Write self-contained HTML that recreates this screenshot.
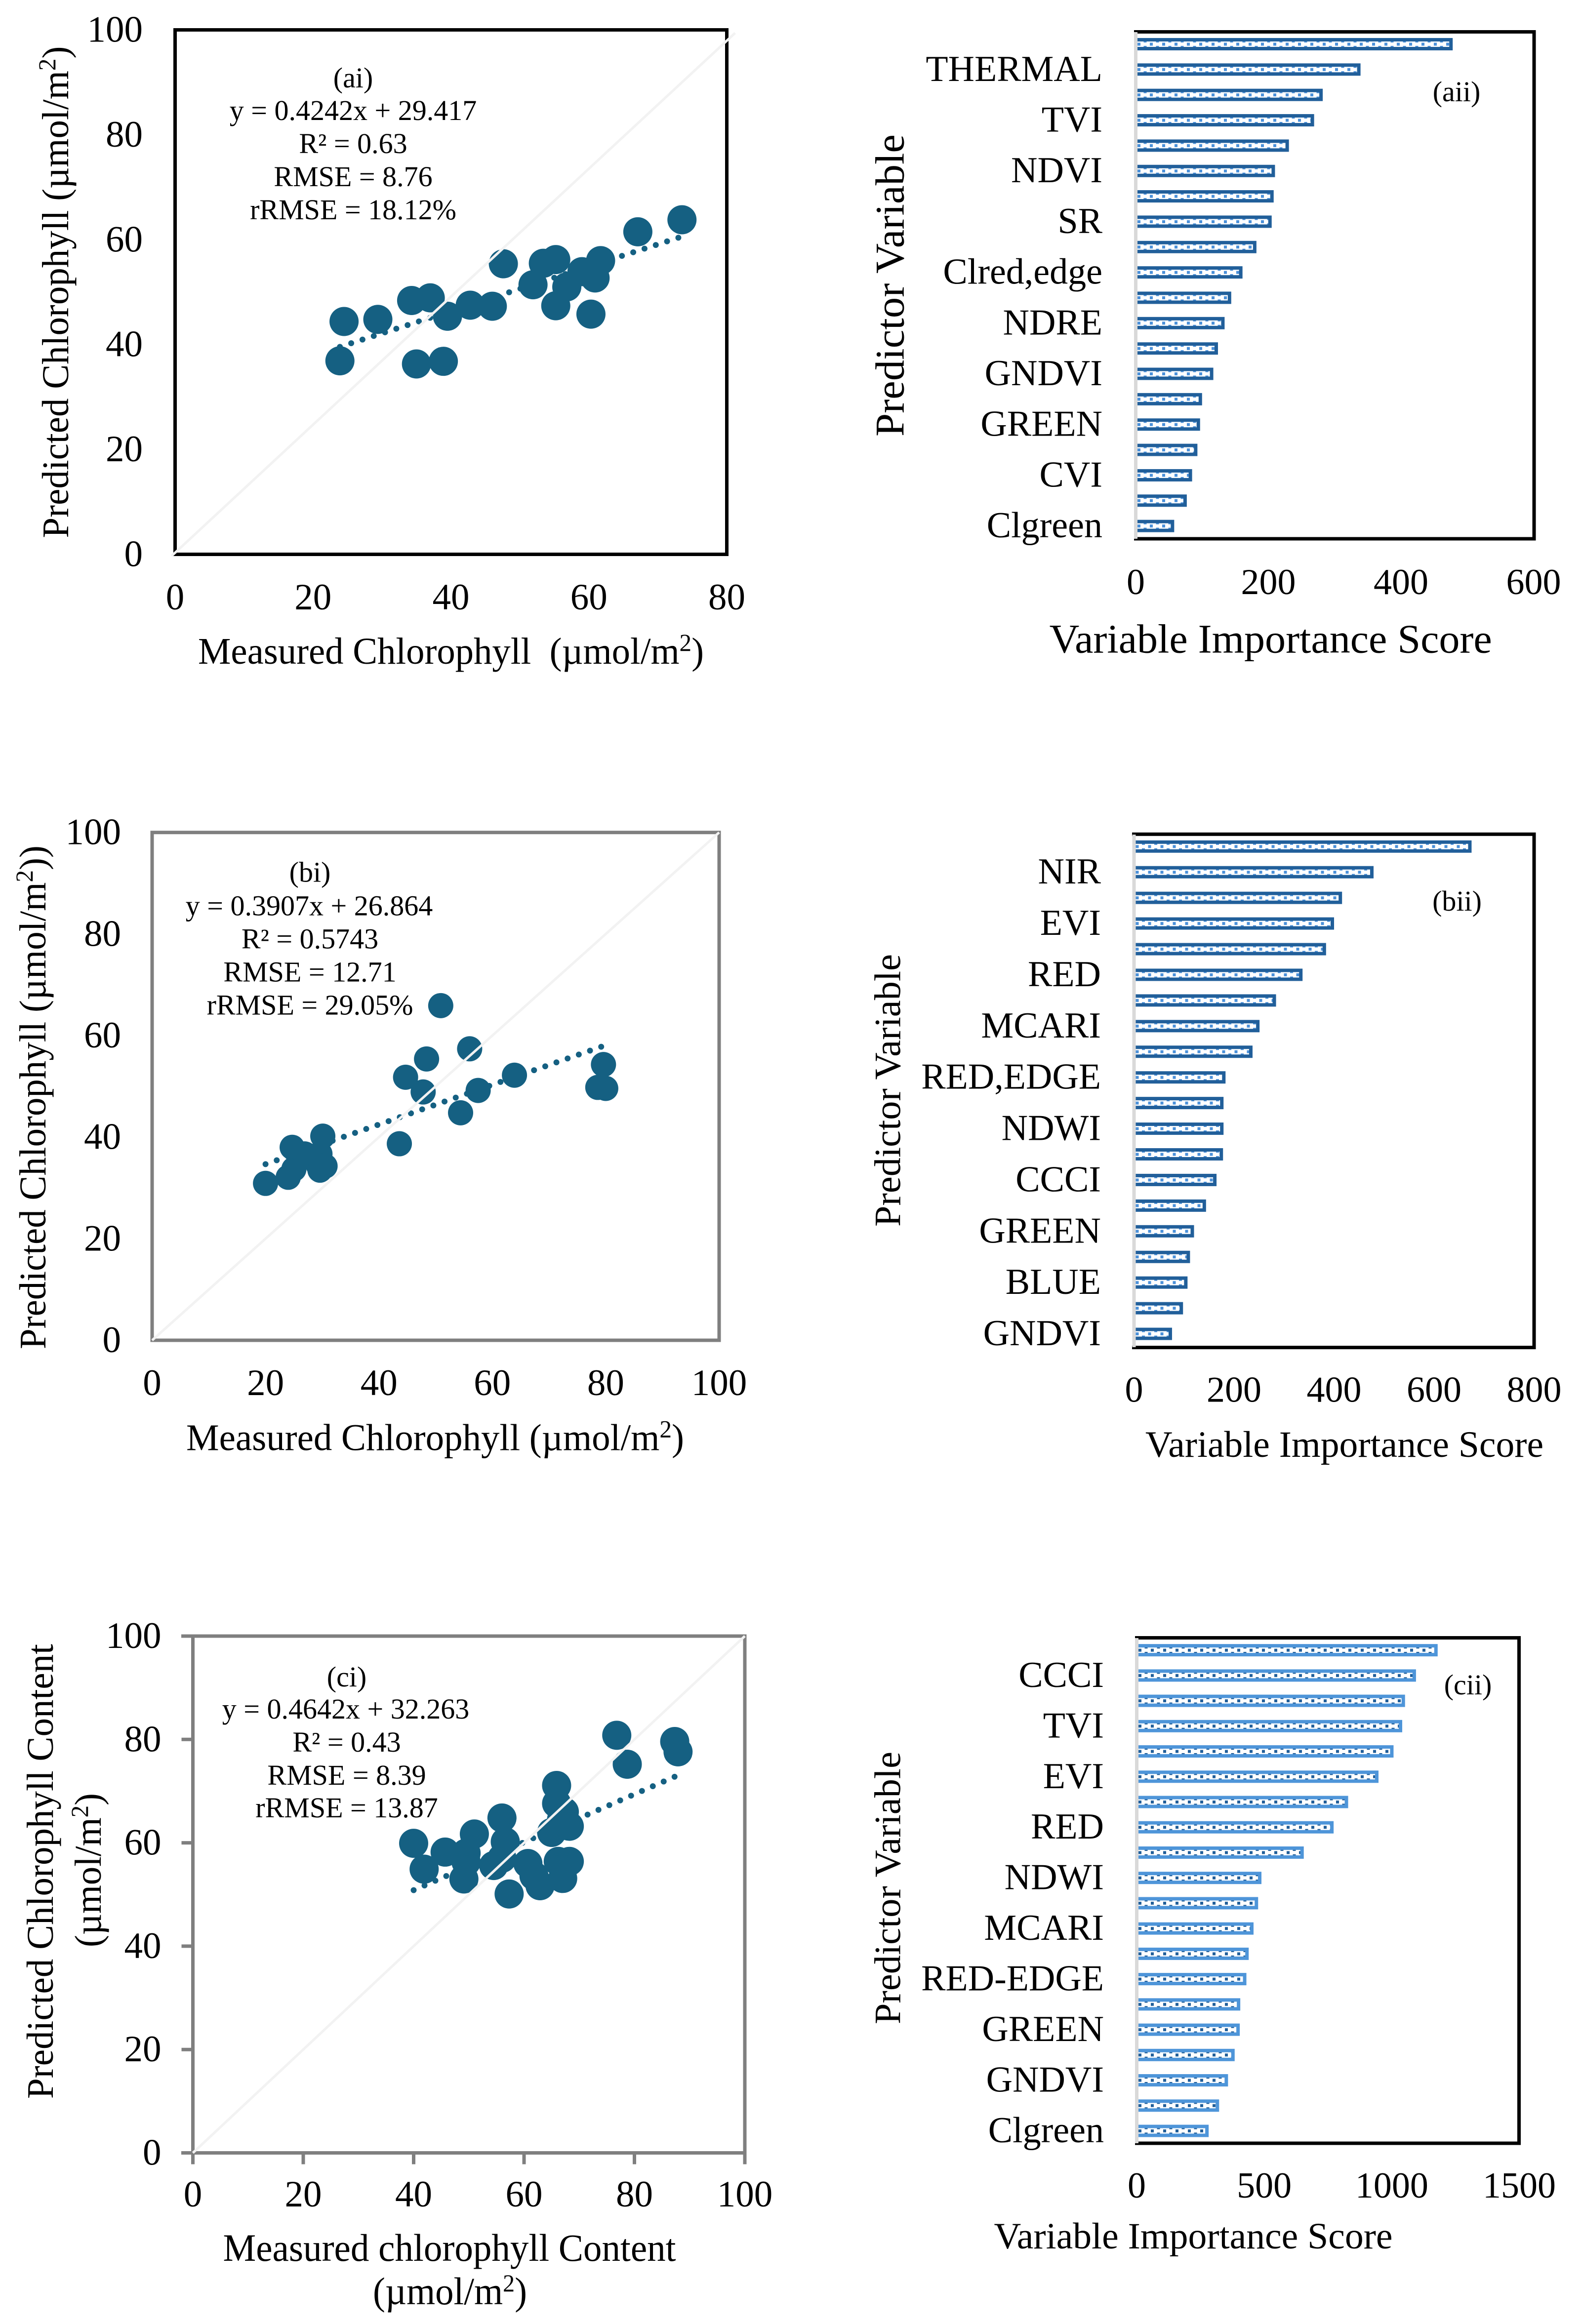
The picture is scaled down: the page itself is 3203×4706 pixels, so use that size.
<!DOCTYPE html>
<html lang="en">
<head>
<meta charset="utf-8">
<title>Measured vs predicted chlorophyll and variable importance</title>
<style>
html,body{margin:0;padding:0;background:#fff}
svg{display:block;position:absolute;left:0;top:0}
text{font-family:"Liberation Serif","Times New Roman",serif;fill:#000}
</style>
</head>
<body>
<svg id="figure" xmlns="http://www.w3.org/2000/svg" width="3203" height="4706" viewBox="0 0 3203 4706">
<rect x="0" y="0" width="3203" height="4706" fill="#fff"/>
<defs id="defs"></defs>

<!-- Panel ai -->
<g id="panel-ai">
<rect x="354.5" y="60.5" width="1117" height="1062" fill="none" stroke="#000" stroke-width="7"/>
<g id="ai-marks"></g>
<g id="ai-ticks"></g>
<text x="715" y="177" font-size="58" text-anchor="middle">(ai)</text>
<text x="715" y="243" font-size="58" text-anchor="middle">y = 0.4242x + 29.417</text>
<text x="715" y="310" font-size="58" text-anchor="middle">R² = 0.63</text>
<text x="715" y="377" font-size="58" text-anchor="middle">RMSE = 8.76</text>
<text x="715" y="444" font-size="58" text-anchor="middle">rRMSE = 18.12%</text>
<text x="913" y="1344" font-size="76" text-anchor="middle" textLength="1024" lengthAdjust="spacingAndGlyphs">Measured Chlorophyll&#160;&#160;(µmol/m<tspan dy="-26" font-size="50">2</tspan><tspan dy="26">)</tspan></text>
<text transform="translate(138 591.5) rotate(-90)" font-size="76" text-anchor="middle" textLength="996" lengthAdjust="spacingAndGlyphs">Predicted Chlorophyll (µmol/m<tspan dy="-26" font-size="50">2</tspan><tspan dy="26">)</tspan></text>
</g>

<!-- Panel aii -->
<g id="panel-aii">
<g id="aii-marks"></g>
<path d="M2296 64.5H3106V1091H2296" fill="none" stroke="#000" stroke-width="7"/>
<line x1="2299.5" y1="65" x2="2299.5" y2="1091" stroke="#d9d9d9" stroke-width="7"/>
<g id="aii-ticks"></g>
<text x="2949" y="205" font-size="58" text-anchor="middle">(aii)</text>
<text x="2572.7" y="1321.5" font-size="83" text-anchor="middle" textLength="896" lengthAdjust="spacingAndGlyphs">Variable Importance Score</text>
<text transform="translate(1829.4 578) rotate(-90)" font-size="83" text-anchor="middle" textLength="612" lengthAdjust="spacingAndGlyphs">Predictor Variable</text>
</g>

<!-- Panel bi -->
<g id="panel-bi">
<rect x="308" y="1685.7" width="1148" height="1028.3" fill="none" stroke="#7f7f7f" stroke-width="7"/>
<g id="bi-marks"></g>
<g id="bi-ticks"></g>
<text x="627.5" y="1785.5" font-size="58" text-anchor="middle">(bi)</text>
<text x="626" y="1853.6" font-size="58" text-anchor="middle">y = 0.3907x + 26.864</text>
<text x="627.5" y="1920.5" font-size="58" text-anchor="middle">R² = 0.5743</text>
<text x="627.5" y="1987.5" font-size="58" text-anchor="middle">RMSE = 12.71</text>
<text x="627.5" y="2054.5" font-size="58" text-anchor="middle">rRMSE = 29.05%</text>
<text x="881" y="2936.7" font-size="76" text-anchor="middle" textLength="1008" lengthAdjust="spacingAndGlyphs">Measured Chlorophyll (µmol/m<tspan dy="-26" font-size="50">2</tspan><tspan dy="26">)</tspan></text>
<text transform="translate(92 2222) rotate(-90)" font-size="76" text-anchor="middle" textLength="1020" lengthAdjust="spacingAndGlyphs">Predicted Chlorophyll (µmol/m<tspan dy="-26" font-size="50">2</tspan><tspan dy="26">))</tspan></text>
</g>

<!-- Panel bii -->
<g id="panel-bii">
<g id="bii-marks"></g>
<path d="M2292 1689.3H3106V2728.6H2292" fill="none" stroke="#000" stroke-width="7"/>
<line x1="2296" y1="1690" x2="2296" y2="2728" stroke="#d9d9d9" stroke-width="7"/>
<g id="bii-ticks"></g>
<text x="2950" y="1843.8" font-size="58" text-anchor="middle">(bii)</text>
<text x="2722" y="2950" font-size="75" text-anchor="middle" textLength="806" lengthAdjust="spacingAndGlyphs">Variable Importance Score</text>
<text transform="translate(1822.7 2208) rotate(-90)" font-size="75" text-anchor="middle" textLength="552" lengthAdjust="spacingAndGlyphs">Predictor Variable</text>
</g>

<!-- Panel ci -->
<g id="panel-ci">
<path d="M367 3313H1508V4381.7M367 4359.5H1508M390.5 3313V4381.7" fill="none" stroke="#7f7f7f" stroke-width="7"/>
<g id="ci-ticks-outer"></g>
<g id="ci-marks"></g>
<g id="ci-ticks"></g>
<text x="702" y="3415" font-size="58" text-anchor="middle">(ci)</text>
<text x="700" y="3480" font-size="58" text-anchor="middle">y = 0.4642x + 32.263</text>
<text x="702" y="3547" font-size="58" text-anchor="middle">R² = 0.43</text>
<text x="702" y="3614" font-size="58" text-anchor="middle">RMSE = 8.39</text>
<text x="702" y="3680" font-size="58" text-anchor="middle">rRMSE = 13.87</text>
<text x="910" y="4578" font-size="78" text-anchor="middle" textLength="917" lengthAdjust="spacingAndGlyphs">Measured chlorophyll Content</text>
<text x="911" y="4666" font-size="78" text-anchor="middle" textLength="312" lengthAdjust="spacingAndGlyphs">(µmol/m<tspan dy="-26" font-size="50">2</tspan><tspan dy="26">)</tspan></text>
<text transform="translate(107 3789.5) rotate(-90)" font-size="76" text-anchor="middle" textLength="921" lengthAdjust="spacingAndGlyphs">Predicted Chlorophyll Content</text>
<text transform="translate(204 3787) rotate(-90)" font-size="76" text-anchor="middle" textLength="312" lengthAdjust="spacingAndGlyphs">(µmol/m<tspan dy="-26" font-size="50">2</tspan><tspan dy="26">)</tspan></text>
</g>

<!-- Panel cii -->
<g id="panel-cii">
<g id="cii-marks"></g>
<path d="M2298 3316.5H3075.5V4340H2298" fill="none" stroke="#000" stroke-width="7"/>
<line x1="2301.5" y1="3317" x2="2301.5" y2="4340" stroke="#d9d9d9" stroke-width="7"/>
<g id="cii-ticks"></g>
<text x="2972" y="3431" font-size="58" text-anchor="middle">(cii)</text>
<text x="2416" y="4552.8" font-size="75" text-anchor="middle" textLength="807" lengthAdjust="spacingAndGlyphs">Variable Importance Score</text>
<text transform="translate(1822.7 3823) rotate(-90)" font-size="75" text-anchor="middle" textLength="552" lengthAdjust="spacingAndGlyphs">Predictor Variable</text>
</g>
</svg>

<script>
// ---------- Panel ai data ----------
const aiMeasured = [23.9,24.5,29.4,34.3,35.0,37.0,38.9,39.5,42.8,46.0,47.6,51.9,53.4,55.2,55.2,56.8,59.0,60.3,60.9,61.7,67.1,73.5];
const aiPredicted = [36.9,44.4,44.8,48.4,36.3,48.9,36.8,45.4,47.5,47.3,55.4,51.4,55.5,56.2,47.4,51.0,53.9,45.8,52.7,56.0,61.5,63.8];
const aiTrendCoefficients = [0.4242,29.417];
const aiReferenceX = [-0.5,81.2];
const aiReferenceY = [-0.3,99.4];
const aiXTicks = [0,20,40,60,80];
const aiYTicks = [0,20,40,60,80,100];

// ---------- Panel bi data ----------
const biMeasured = [20.0,24.0,25.0,24.7,26.9,29.6,29.3,30.5,29.6,30.1,43.6,44.7,48.4,47.8,54.4,56.0,57.5,63.9,78.6,79.6,80.0,50.9];
const biPredicted = [30.9,32.1,33.7,38.0,36.7,36.7,34.5,34.3,33.5,40.2,38.7,51.8,55.4,48.9,44.8,57.4,49.2,52.2,49.8,54.3,49.6,65.9];
const biTrendCoefficients = [0.3907,26.864];
const biReferenceX = [0,100];
const biReferenceY = [0,100];
const biXTicks = [0,20,40,60,80,100];
const biYTicks = [0,20,40,60,80,100];

// ---------- Panel ci data ----------
const ciMeasured = [40.0,41.9,45.7,49.5,49.5,49.1,51.0,56.0,56.6,54.5,57.3,60.7,61.8,62.9,65.0,65.9,65.9,67.3,68.2,66.2,68.2,67.0,76.8,78.7,87.3,87.9,66.8,56.0];
const ciPredicted = [59.9,54.9,58.2,58.0,56.3,53.0,61.7,64.8,60.2,55.6,50.1,56.0,53.6,51.7,62.0,71.1,67.6,66.0,63.2,56.4,56.4,53.1,80.8,75.2,79.6,77.6,64.5,57.0];
const ciTrendCoefficients = [0.4642,32.263];
const ciReferenceX = [0,100];
const ciReferenceY = [0,100];
const ciXTicks = [0,20,40,60,80,100];
const ciYTicks = [0,20,40,60,80,100];

// ---------- Variable importance data (labels shown on every second bar) ----------
const aiiCategories = ["","THERMAL","","TVI","","NDVI","","SR","","Clred,edge","","NDRE","","GNDVI","","GREEN","","CVI","","Clgreen"];
const aiiScores = [478,339,282,269,231,210,208,205,182,161,144,134,124,117,100,97,93,85,77,58];
const aiiTicks = [0,200,400,600];

const biiCategories = ["","NIR","","EVI","","RED","","MCARI","","RED,EDGE","","NDWI","","CCCI","","GREEN","","BLUE","","GNDVI"];
const biiScores = [675,479,416,400,384,337,284,251,237,183,179,179,178,165,144,120,112,107,98,76];
const biiTicks = [0,200,400,600,800];

const ciiCategories = ["","CCCI","","TVI","","EVI","","RED","","NDWI","","MCARI","","RED-EDGE","","GREEN","","GNDVI","","Clgreen"];
const ciiScores = [1180,1095,1052,1041,1007,948,829,772,655,489,476,458,439,430,406,404,384,358,323,282];
const ciiTicks = [0,500,1000,1500];

const NS = 'http://www.w3.org/2000/svg';
const POINT_COLOR = '#156082';

function linear(d0, d1, r0, r1) {
  return function (v) { return r0 + (v - d0) / (d1 - d0) * (r1 - r0); };
}
function make(tag, attrs, parent) {
  const el = document.createElementNS(NS, tag);
  for (const k in attrs) el.setAttribute(k, attrs[k]);
  parent.appendChild(el);
  return el;
}
function drawLabel(parent, x, y, str, size, anchor) {
  const el = make('text', { x: x, y: y, 'font-size': size, 'text-anchor': anchor }, parent);
  el.textContent = str;
  return el;
}

function drawScatter(id, measured, predicted, trend, refX, refY, xS, yS, radius) {
  const g = document.getElementById(id + '-marks');
  const lo = Math.min.apply(null, measured);
  const hi = Math.max.apply(null, measured);
  const trendLine = make('line', {
    x1: xS(lo), y1: yS(trend[0] * lo + trend[1]),
    x2: xS(hi), y2: yS(trend[0] * hi + trend[1]),
    stroke: POINT_COLOR, 'stroke-width': 12, 'stroke-linecap': 'round', 'stroke-dasharray': '0 24'
  }, g);
  
  
  measured.forEach(function (m, i) {
    const pt = make('circle', { cx: xS(m), cy: yS(predicted[i]), r: radius, fill: POINT_COLOR }, g);
    
    
  });
  const ref = make('line', {
    x1: xS(refX[0]), y1: yS(refY[0]), x2: xS(refX[1]), y2: yS(refY[1]),
    stroke: '#f2f2f2', 'stroke-width': 5
  }, g);
  
  
}

function drawScatterTicks(id, xTicks, yTicks, xS, yS, xBase, yRight, size) {
  const g = document.getElementById(id + '-ticks');
  xTicks.forEach(function (t) {
    const lab = drawLabel(g, xS(t), xBase, String(t), size, 'middle');
    
    
  });
  yTicks.forEach(function (t) {
    const lab = drawLabel(g, yRight, yS(t) + 24, String(t), size, 'end');
    
    
  });
}

function drawOuterTicks(id, xTicks, yTicks, xS, yS, yAxisX, xAxisY, len) {
  const g = document.getElementById(id + '-ticks-outer');
  xTicks.forEach(function (t) {
    const mark = make('line', { x1: xS(t), y1: xAxisY, x2: xS(t), y2: xAxisY + len, stroke: '#7f7f7f', 'stroke-width': 7 }, g);
    
    
  });
  yTicks.forEach(function (t) {
    const mark = make('line', { x1: yAxisX, y1: yS(t), x2: yAxisX - len, y2: yS(t), stroke: '#7f7f7f', 'stroke-width': 7 }, g);
    
    
  });
}

function drawBars(id, categories, scores, ticks, xS, top, bottom, x0, edge, dots, labelRight, tickBase) {
  const g = document.getElementById(id + '-marks');
  const t = document.getElementById(id + '-ticks');
  const band = (bottom - top) / scores.length;
  const firstCenter = top + band / 2;
  const tileH = band / 4;
  const defs = document.getElementById('defs');
  const pat = make('pattern', {
    id: id + '-fill', patternUnits: 'userSpaceOnUse',
    x: x0 + 0.5, y: firstCenter - tileH / 2, width: 25, height: tileH
  }, defs);
  make('rect', { x: 0, y: 0, width: 25, height: tileH, fill: '#fff' }, pat);
  make('rect', { x: 3, y: tileH / 2 - 3, width: 6, height: 6, fill: dots }, pat);
  make('rect', { x: 15.5, y: -3, width: 6, height: 6, fill: dots }, pat);
  make('rect', { x: 15.5, y: tileH - 3, width: 6, height: 6, fill: dots }, pat);
  scores.forEach(function (s, i) {
    const c = firstCenter + i * band;
    const bar = make('rect', {
      x: x0, y: c - 9, width: Math.max(0, xS(s) - x0 - 3.5), height: 18,
      fill: 'url(#' + id + '-fill)', stroke: edge, 'stroke-width': 7
    }, g);
    
    
    if (categories[i]) {
      const lab = drawLabel(t, labelRight, c + 23, categories[i], 74, 'end');
      
      
    }
  });
  ticks.forEach(function (v) {
    const lab = drawLabel(t, xS(v), tickBase, String(v), 74, 'middle');
    
    
  });
}

const aiX = linear(0, 80, 354.5, 1471.5);
const aiY = linear(0, 100, 1122.5, 60.5);
drawScatter('ai', aiMeasured, aiPredicted, aiTrendCoefficients, aiReferenceX, aiReferenceY, aiX, aiY, 29.5);
drawScatterTicks('ai', aiXTicks, aiYTicks, aiX, aiY, 1234, 289, 75);

const biX = linear(0, 100, 308, 1456);
const biY = linear(0, 100, 2714, 1685.7);
drawScatter('bi', biMeasured, biPredicted, biTrendCoefficients, biReferenceX, biReferenceY, biX, biY, 25.5);
drawScatterTicks('bi', biXTicks, biYTicks, biX, biY, 2825, 245, 75);

const ciX = linear(0, 100, 390.5, 1508);
const ciY = linear(0, 100, 4359.5, 3313);
drawOuterTicks('ci', ciXTicks, ciYTicks, ciX, ciY, 390.5, 4359.5, 23);
drawScatter('ci', ciMeasured, ciPredicted, ciTrendCoefficients, ciReferenceX, ciReferenceY, ciX, ciY, 29.5);
drawScatterTicks('ci', ciXTicks, ciYTicks, ciX, ciY, 4468, 326.5, 75);

drawBars('aii', aiiCategories, aiiScores, aiiTicks, linear(0, 600, 2299.5, 3105), 63.8, 1090.8, 2299.5, '#215f9a', '#4a90d9', 2232, 1203);
drawBars('bii', biiCategories, biiScores, biiTicks, linear(0, 800, 2296, 3106), 1688.3, 2727, 2296, '#215f9a', '#4a90d9', 2229, 2838.5);
drawBars('cii', ciiCategories, ciiScores, ciiTicks, linear(0, 1500, 2301.5, 3076), 3316, 4340.6, 2301.5, '#4e95d9', '#215f9a', 2235, 4450);
</script>
</body>
</html>
